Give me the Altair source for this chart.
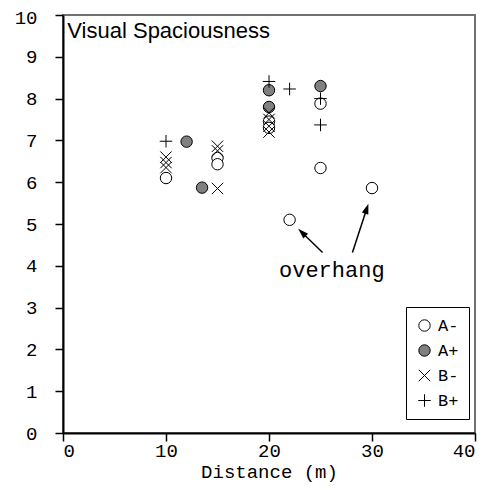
import math
import altair as alt
import pandas as pd

# ---- data ----
series_names = ["A-", "A+", "B-", "B+"]
a_minus_x = [10, 15, 15, 20, 20, 22, 25, 25, 30]
a_minus_y = [6.10, 6.58, 6.43, 7.45, 7.30, 5.10, 7.88, 6.34, 5.86]
a_plus_x = [12, 13.5, 20, 20, 25]
a_plus_y = [6.97, 5.87, 8.20, 7.80, 8.30]
b_minus_x = [10, 10, 10, 15, 15, 15, 20, 20, 20, 20]
b_minus_y = [6.60, 6.47, 6.35, 6.86, 6.75, 5.85, 7.66, 7.50, 7.34, 7.20]
b_plus_x = [10, 20, 22, 25, 25]
b_plus_y = [6.98, 8.41, 8.23, 8.00, 7.37]

x_ticks = [0, 10, 20, 30, 40]
y_ticks = [0, 1, 2, 3, 4, 5, 6, 7, 8, 9, 10]

panel_title = "Visual Spaciousness"
annotation_text = "overhang"
annotation_x = [26.1]
annotation_y = [3.89]
arrow_tail_x = [25.2, 28.1]
arrow_tail_y = [4.32, 4.32]
arrow_head_x = [22.85, 29.64]
arrow_head_y = [4.88, 5.48]

# ---- build tables ----
rows = []
for name, xs, ys in [("A-", a_minus_x, a_minus_y), ("A+", a_plus_x, a_plus_y),
                     ("B-", b_minus_x, b_minus_y), ("B+", b_plus_x, b_plus_y)]:
    for x, y in zip(xs, ys):
        rows.append({"distance": x, "score": y, "series": name})
points_df = pd.DataFrame(rows)

W, H = 412, 418
XMAX, YMAX = 40, 10
px_x = W / XMAX
px_y = H / YMAX

arrow_rows = []
head_rows = []
for tx, ty, hx, hy in zip(arrow_tail_x, arrow_tail_y, arrow_head_x, arrow_head_y):
    dx = (hx - tx) * px_x
    dy = -(hy - ty) * px_y
    ln = math.hypot(dx, dy)
    ux, uy = dx / ln, dy / ln
    back = 5.0
    cx = hx - ux * back / px_x
    cy = hy + uy * back / px_y
    ang = math.degrees(math.atan2(dx, -dy)) % 360
    arrow_rows.append({"x": tx, "y": ty, "x2": cx, "y2": cy})
    head_rows.append({"x": cx, "y": cy, "angle": ang})
arrow_df = pd.DataFrame(arrow_rows)
head_df = pd.DataFrame(head_rows)

MONO = "Liberation Mono"

shape_paths = [
    "circle",
    "circle",
    "M-1,-1L1,1M-1,1L1,-1",
    "M-1.1,0L1.1,0M0,-1.1L0,1.1",
]
fill_colors = ["white", "#808080", "transparent", "transparent"]
stroke_colors = ["black", "black", "black", "black"]

legend = alt.Legend(
    title=None, orient="none", legendX=343, legendY=292,
    strokeColor="black", fillColor="white", padding=10,
    rowPadding=7, labelFont=MONO, labelFontSize=17, labelColor="black",
    labelOffset=5, symbolSize=130, symbolStrokeWidth=1, symbolOpacity=1,
)

x_scale = alt.Scale(domain=[0, XMAX], nice=False, zero=False)
y_scale = alt.Scale(domain=[0, YMAX], nice=False, zero=False)

x_axis = alt.Axis(values=x_ticks, title="Distance (m)", grid=False,
                  tickSize=8, labelPadding=0, titlePadding=2,
                  labelFont=MONO, labelFontSize=19, titleFont=MONO,
                  titleFontSize=19, titleFontWeight="normal",
                  domainColor="black", domainWidth=2, tickColor="black",
                  tickWidth=1.5, labelColor="black", titleColor="black")
y_axis = alt.Axis(values=y_ticks, title=None, grid=False,
                  tickSize=8, labelPadding=18,
                  labelOffset={"condition": {"test": "datum.value == 10", "value": 2}, "value": 0},
                  labelFont=MONO, labelFontSize=19,
                  domainColor="black", domainWidth=2, tickColor="black",
                  tickWidth=1.5, labelColor="black")

pts = alt.Chart(points_df).mark_point(
    filled=True, strokeWidth=1, size=130, opacity=1
).encode(
    x=alt.X("distance:Q", scale=x_scale, axis=x_axis),
    y=alt.Y("score:Q", scale=y_scale, axis=y_axis),
    shape=alt.Shape("series:N", scale=alt.Scale(domain=series_names, range=shape_paths), legend=legend),
    fill=alt.Fill("series:N", scale=alt.Scale(domain=series_names, range=fill_colors), legend=legend),
    stroke=alt.Stroke("series:N", scale=alt.Scale(domain=series_names, range=stroke_colors), legend=legend),
)

title_df = pd.DataFrame({"x": [0.42], "y": [9.46], "t": [panel_title]})
title_layer = alt.Chart(title_df).mark_text(
    align="left", baseline="alphabetic", font="Liberation Sans",
    fontSize=22, color="black"
).encode(x="x:Q", y="y:Q", text="t:N")

ann_df = pd.DataFrame({"x": annotation_x, "y": annotation_y, "t": [annotation_text]})
ann_layer = alt.Chart(ann_df).mark_text(
    align="center", baseline="middle", font=MONO, fontSize=22, color="black"
).encode(x="x:Q", y="y:Q", text="t:N")

arrow_layer = alt.Chart(arrow_df).mark_rule(color="black", strokeWidth=1.5).encode(
    x="x:Q", y="y:Q", x2="x2:Q", y2="y2:Q"
)
head_layer = alt.Chart(head_df).mark_point(
    shape="M0,-1L0.65,1L-0.65,1Z", filled=True, color="black", size=110, opacity=1
).encode(
    x="x:Q", y="y:Q", angle=alt.Angle("angle:Q", scale=None)
)

chart = alt.layer(
    pts, title_layer, ann_layer, arrow_layer, head_layer
).properties(
    width=W, height=H,
    autosize=alt.AutoSizeParams(type="none"),
    padding={"left": 55, "top": 7, "right": 10, "bottom": 49},
).configure_view(
    stroke="#707070", strokeWidth=2
)

chart.save("out.html", embed_options={"renderer": "svg", "actions": False})
